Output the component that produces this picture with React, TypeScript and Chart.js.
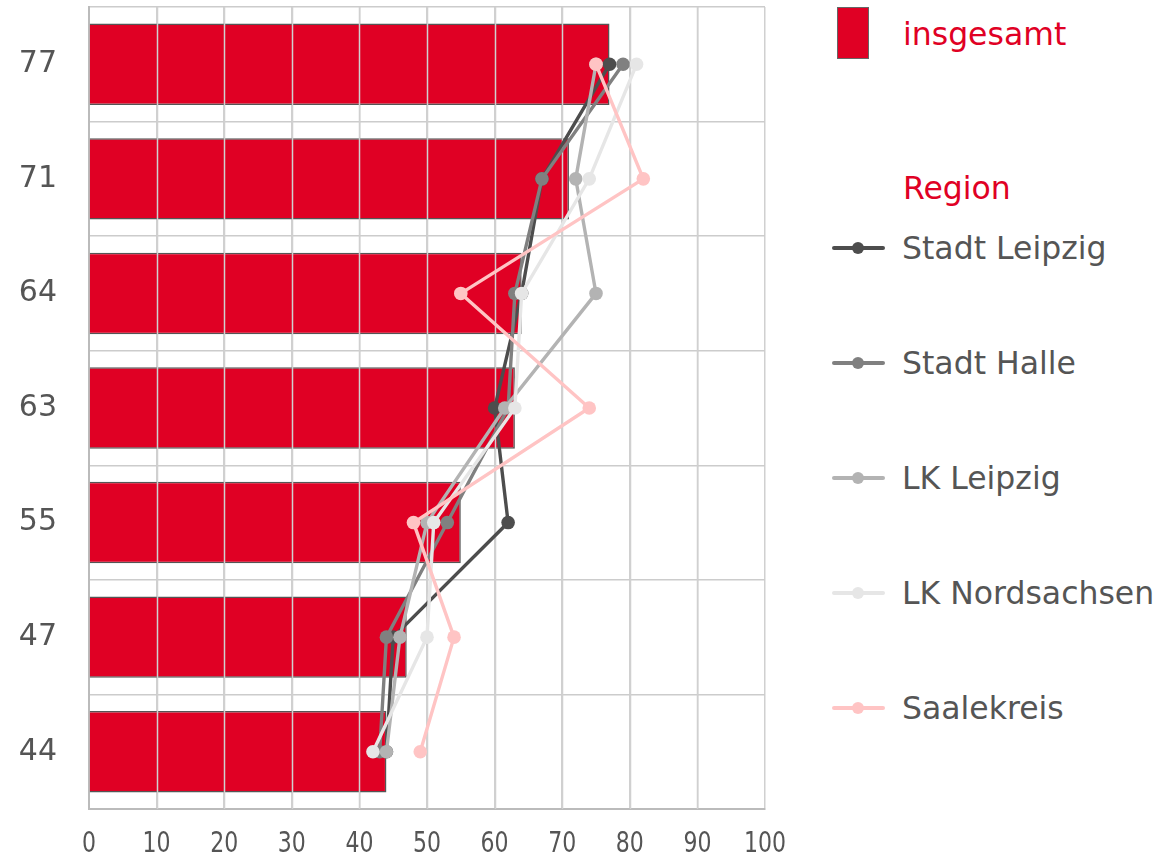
import React, { useEffect, useRef } from "react";
import { Chart, registerables } from "chart.js";

Chart.register(...registerables);

const categories = ["77", "71", "64", "63", "55", "47", "44"];
const insgesamt = [77, 71, 64, 63, 55, 47, 44];
const stadtLeipzig = [77, 67, 64, 60, 62, 45, 44];
const stadtHalle = [79, 67, 63, 62, 53, 44, 43];
const lkLeipzig = [75, 72, 75, 61.5, 50, 46, 44];
const lkNordsachsen = [81, 74, 64, 63, 51, 50, 42];
const saalekreis = [75, 82, 55, 74, 48, 54, 49];
const xTicks = [0, 10, 20, 30, 40, 50, 60, 70, 80, 90, 100];

const RED = "#e00024";
const TEXT = "#555555";

const seriesDefs = [
  { label: "Stadt Leipzig", data: stadtLeipzig, color: "#4d4d4d", order: 5 },
  { label: "Stadt Halle", data: stadtHalle, color: "#808080", order: 4 },
  { label: "LK Leipzig", data: lkLeipzig, color: "#b3b3b3", order: 3 },
  { label: "LK Nordsachsen", data: lkNordsachsen, color: "#e6e6e6", order: 2 },
  { label: "Saalekreis", data: saalekreis, color: "#ffc4c4", order: 1 },
];

const gridOverBars = {
  id: "gridOverBars",
  afterDatasetDraw(chart: any, args: any) {
    if (args.meta.type !== "bar") return;
    const ctx = chart.ctx;
    const x = chart.scales.x;
    const area = chart.chartArea;
    ctx.save();
    ctx.strokeStyle = "#d0d0d0";
    ctx.lineWidth = 1.5;
    x.ticks.forEach((t: any) => {
      if (t.value <= 0 || t.value >= 100) return;
      const px = Math.round(x.getPixelForValue(t.value)) + 0.5;
      ctx.beginPath();
      ctx.moveTo(px, area.top);
      ctx.lineTo(px, area.bottom);
      ctx.stroke();
    });
    ctx.restore();
  },
};

const narrowXLabels = {
  id: "narrowXLabels",
  afterDraw(chart: any) {
    const ctx = chart.ctx;
    const x = chart.scales.x;
    const y0 = chart.chartArea.bottom + 35;
    ctx.save();
    ctx.fillStyle = TEXT;
    ctx.font = "29px 'DejaVu Sans', Verdana, sans-serif";
    ctx.textAlign = "center";
    ctx.textBaseline = "middle";
    x.ticks.forEach((t: any) => {
      const px = x.getPixelForValue(t.value);
      ctx.save();
      ctx.translate(px, y0);
      ctx.scale(0.76, 1);
      ctx.fillText(String(t.value), 0, 0);
      ctx.restore();
    });
    ctx.restore();
  },
};

function ChartCanvas() {
  const ref = useRef<HTMLCanvasElement | null>(null);
  useEffect(() => {
    if (!ref.current) return;
    const datasets: any[] = [
      {
        type: "bar",
        label: "insgesamt",
        data: insgesamt,
        indexAxis: "y",
        backgroundColor: RED,
        borderColor: "#555555",
        borderWidth: 1.5,
        barPercentage: 0.9,
        categoryPercentage: 0.79,
        order: 6,
      },
      ...seriesDefs.map((s) => ({
        type: "line",
        label: s.label,
        data: s.data,
        indexAxis: "y",
        borderColor: s.color,
        backgroundColor: s.color,
        pointBackgroundColor: s.color,
        pointBorderColor: s.color,
        pointBorderWidth: 0,
        pointRadius: 6.8,
        borderWidth: 3.4,
        tension: 0,
        order: s.order,
      })),
    ];
    const chart = new Chart(ref.current, {
      type: "bar",
      data: { labels: categories, datasets },
      options: {
        indexAxis: "y",
        animation: false,
        responsive: true,
        maintainAspectRatio: false,
        layout: { padding: { top: 7, right: 35, left: 0, bottom: 0 } },
        plugins: { legend: { display: false }, tooltip: { enabled: false } },
        scales: {
          x: {
            type: "linear",
            min: 0,
            max: 100,
            afterBuildTicks: (scale: any) => {
              scale.ticks = xTicks.map((v) => ({ value: v }));
            },
            afterFit: (scale: any) => {
              scale.height = 49;
              scale.paddingLeft = 0;
              scale.paddingRight = 0;
              scale.paddingTop = 0;
              scale.paddingBottom = 0;
            },
            ticks: { display: false },
            grid: { color: "#d0d0d0", lineWidth: 1.5, drawTicks: false },
            border: { color: "#bbbbbb", width: 2 },
          },
          y: {
            type: "category",
            afterFit: (scale: any) => {
              scale.width = 89;
              scale.paddingLeft = 0;
              scale.paddingRight = 0;
              scale.paddingTop = 0;
              scale.paddingBottom = 0;
            },
            ticks: {
              color: TEXT,
              padding: 32,
              font: { family: "'DejaVu Sans', Verdana, sans-serif", size: 30 },
            },
            grid: { offset: true, color: "#cccccc", lineWidth: 1.5, drawTicks: false },
            border: { color: "#bbbbbb", width: 2 },
          },
        },
      } as any,
      plugins: [gridOverBars, narrowXLabels],
    });
    return () => chart.destroy();
  }, []);
  return <canvas ref={ref} />;
}

const legendFont = "'DejaVu Sans', Verdana, sans-serif";

export default function App() {
  const itemTop = 248;
  return (
    <div
      style={{
        position: "fixed",
        left: 0,
        top: 0,
        width: 1171,
        height: 858,
        background: "#ffffff",
        fontFamily: legendFont,
      }}
    >
      <div style={{ position: "absolute", left: 0, top: 0, width: 800, height: 858 }}>
        <ChartCanvas />
      </div>
      <div
        style={{
          position: "absolute",
          left: 837,
          top: 7,
          width: 32,
          height: 52,
          background: RED,
          border: "1px solid #666",
          boxSizing: "border-box",
        }}
      />
      <div
        style={{
          position: "absolute",
          left: 903,
          top: 34,
          transform: "translateY(-50%)",
          color: RED,
          fontSize: 31.5,
          lineHeight: "36px",
          whiteSpace: "nowrap",
        }}
      >
        insgesamt
      </div>
      <div
        style={{
          position: "absolute",
          left: 903,
          top: 188,
          transform: "translateY(-50%)",
          color: RED,
          fontSize: 31.5,
          lineHeight: "36px",
          whiteSpace: "nowrap",
        }}
      >
        Region
      </div>
      {seriesDefs.map((s, i) => {
        const cy = itemTop + i * 115;
        return (
          <React.Fragment key={s.label}>
            <div
              style={{
                position: "absolute",
                left: 832,
                top: cy - 2,
                width: 53,
                height: 4,
                borderRadius: 2,
                background: s.color,
              }}
            />
            <div
              style={{
                position: "absolute",
                left: 852,
                top: cy - 6,
                width: 12,
                height: 12,
                borderRadius: 6,
                background: s.color,
              }}
            />
            <div
              style={{
                position: "absolute",
                left: 902,
                top: cy,
                transform: "translateY(-50%)",
                color: TEXT,
                fontSize: 31.5,
                lineHeight: "36px",
                whiteSpace: "nowrap",
              }}
            >
              {s.label}
            </div>
          </React.Fragment>
        );
      })}
    </div>
  );
}
